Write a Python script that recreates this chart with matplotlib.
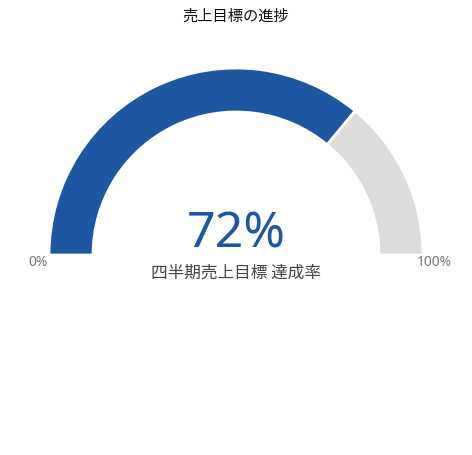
import matplotlib.pyplot as plt
from matplotlib.patches import Wedge

plt.rcParams['font.family'] = ['Noto Sans CJK JP', 'DejaVu Sans']

title = '売上目標の進捗'
value = 72
max_value = 100
subtitle = '四半期売上目標 達成率'
min_label = '0%'
max_label = '100%'

W, H = 472, 455
fig = plt.figure(figsize=(W / 100, H / 100), dpi=100)
ax = fig.add_axes([0, 0, 1, 1])
ax.set_xlim(0, W)
ax.set_ylim(0, H)
ax.axis('off')

cx, cy = 236, H - 255
r_out, width = 187, 44

split = 180 - 180 * value / max_value
ax.add_patch(Wedge((cx, cy), r_out, split, 180, width=width,
                   facecolor='#1f56a1', edgecolor='white', linewidth=2))
ax.add_patch(Wedge((cx, cy), r_out, 0, split, width=width,
                   facecolor='#dcdcdc', edgecolor='white', linewidth=2))

num_font = ['Noto Sans', 'DejaVu Sans']
ax.text(cx, H - 234, f'{value}%', ha='center', va='center', fontsize=36,
        color='#1f56a1', family=num_font)
ax.text(cx, H - 16, title, ha='center', va='center', fontsize=11, color='#111111')
ax.text(cx, H - 273, subtitle, ha='center', va='center', fontsize=12, color='#444444')
ax.text(cx - 198, H - 263, min_label, ha='center', va='center',
        fontsize=10, color='#777777', family=num_font)
ax.text(cx + 198, H - 263, max_label, ha='center', va='center',
        fontsize=10, color='#777777', family=num_font)

fig.savefig('out.png', dpi=100)
